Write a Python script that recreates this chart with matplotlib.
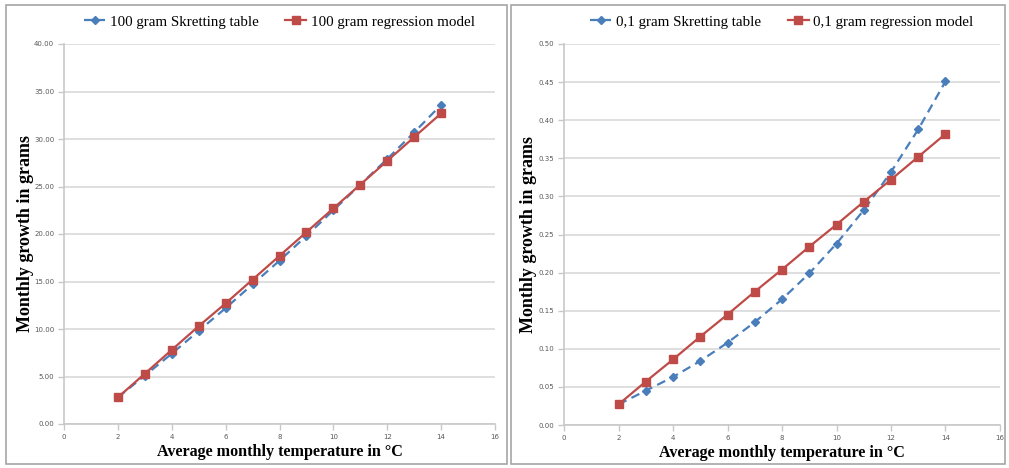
import matplotlib.pyplot as plt
from matplotlib.patches import Rectangle

# temperatures (deg C)
temps = [2, 3, 4, 5, 6, 7, 8, 9, 10, 11, 12, 13, 14]

# 100 gram fish
skretting_100 = [2.8, 5.1, 7.4, 9.8, 12.2, 14.7, 17.2, 19.8, 22.5, 25.2, 27.9, 30.7, 33.6]
model_100 = [2.8, 5.3, 7.8, 10.3, 12.7, 15.2, 17.7, 20.2, 22.7, 25.2, 27.7, 30.2, 32.7]

# 0,1 gram fish
skretting_01 = [0.027, 0.045, 0.063, 0.084, 0.108, 0.135, 0.165, 0.199, 0.238, 0.282, 0.332, 0.388, 0.451]
model_01 = [0.027, 0.057, 0.086, 0.116, 0.145, 0.175, 0.204, 0.234, 0.263, 0.293, 0.322, 0.352, 0.382]

BLUE = "#4A7EBB"
RED = "#BE4B48"
SERIF = ["Liberation Serif", "DejaVu Serif"]

fig = plt.figure(figsize=(10.09, 4.68), dpi=100)

# panel borders
for x0, w in [(6, 501), (511, 494)]:
    fig.patches.append(Rectangle((x0 / 1009, 4 / 468), w / 1009, 459 / 468,
                                 transform=fig.transFigure, fill=False,
                                 edgecolor="#A6A6A6", linewidth=1.2))


def draw_panel(rect, ys_blue, ys_red, ymax, ystep, label_b, label_r, ylab_x):
    ax = fig.add_axes(rect)
    ax.plot(temps, ys_blue, color=BLUE, linestyle=(0, (4, 2.5)), linewidth=1.6,
            marker="D", markersize=4, label=label_b, zorder=3)
    ax.plot(temps, ys_red, color=RED, linestyle="-", linewidth=1.6,
            marker="s", markersize=5.5, label=label_r, zorder=4)
    ax.set_xlim(0, 16)
    ax.set_ylim(0, ymax)
    ax.set_xticks(range(0, 17, 2))
    yt = [i * ystep for i in range(int(round(ymax / ystep)) + 1)]
    ax.set_yticks(yt)
    ax.set_yticklabels([f"{v:.2f}" for v in yt])
    ax.grid(axis="y", color="#D9D9D9", linewidth=1.2)
    ax.set_axisbelow(True)
    for s in ["top", "right"]:
        ax.spines[s].set_visible(False)
    for s in ["left", "bottom"]:
        ax.spines[s].set_color("#C8C8C8")
        ax.spines[s].set_linewidth(1.2)
    ax.tick_params(labelsize=5, colors="#C8C8C8", labelcolor="#595959",
                   length=4, width=1, pad=3)
    ax.set_xlabel("Average monthly temperature in °C", family=SERIF,
                  fontweight="bold", fontsize=11.6)
    ax.set_ylabel("Monthly growth in grams", family=SERIF,
                  fontweight="bold", fontsize=13)
    ax.xaxis.label.set_va("center")
    ax.yaxis.label.set_va("center")
    ax.xaxis.set_label_coords(0.5, -0.074)
    ax.yaxis.set_label_coords(ylab_x, 0.5)
    ax.legend(loc="center", bbox_to_anchor=(0.5, 1.058), ncol=2, frameon=False,
              prop={"family": SERIF, "size": 10.8}, handlelength=1.4,
              columnspacing=1.8, handletextpad=0.3)
    return ax


draw_panel([64 / 1009, 44 / 468, 431 / 1009, 380 / 468], skretting_100, model_100,
           40, 5, "100 gram Skretting table", "100 gram regression model", -0.09)
draw_panel([564 / 1009, 43 / 468, 436 / 1009, 381 / 468], skretting_01, model_01,
           0.5, 0.05, "0,1 gram Skretting table", "0,1 gram regression model", -0.082)

fig.savefig("out.png", dpi=100)
